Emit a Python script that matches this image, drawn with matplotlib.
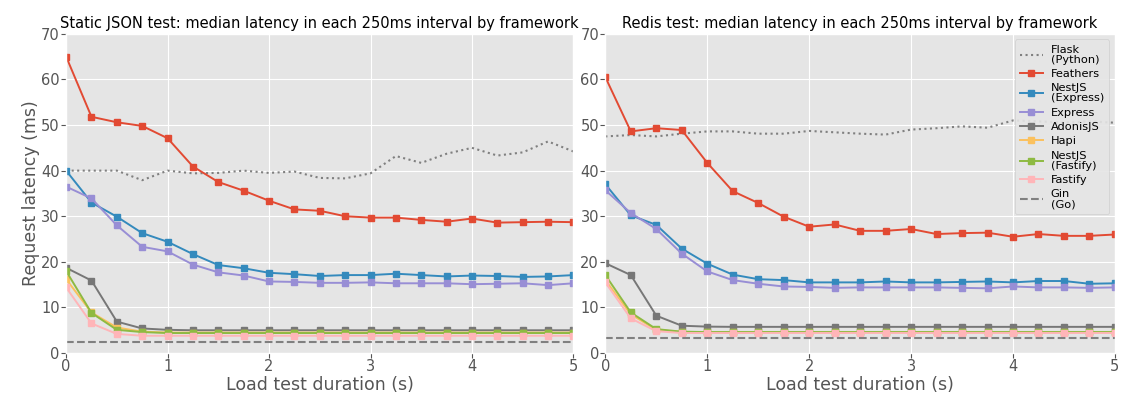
import numpy as np
import matplotlib
matplotlib.use("Agg")
import matplotlib.pyplot as plt

plt.style.use("ggplot")

# time axis: 250ms intervals over 5 seconds
t = [0, 0.25, 0.5, 0.75, 1.0, 1.25, 1.5, 1.75, 2.0, 2.25, 2.5,
     2.75, 3.0, 3.25, 3.5, 3.75, 4.0, 4.25, 4.5, 4.75, 5.0]

labels = ["Flask\n(Python)", "Feathers", "NestJS\n(Express)", "Express",
          "AdonisJS", "Hapi", "NestJS\n(Fastify)", "Fastify", "Gin\n(Go)"]

# --- Static JSON test ---
json_flask = [40.0, 40.0, 40.0, 37.9, 40.0, 39.4, 39.5, 40.0, 39.5, 39.8, 38.4,
              38.3, 39.4, 43.2, 41.7, 43.7, 45.0, 43.3, 44.0, 46.4, 44.2]
json_feathers = [65.0, 51.8, 50.6, 49.8, 47.1, 40.9, 37.5, 35.6, 33.4, 31.5, 31.2,
                 30.0, 29.7, 29.7, 29.2, 28.8, 29.5, 28.6, 28.7, 28.8, 28.7]
json_nest_express = [40.0, 33.0, 29.9, 26.3, 24.4, 21.7, 19.3, 18.6, 17.6, 17.3, 16.9,
                     17.1, 17.1, 17.4, 17.1, 16.8, 17.0, 16.9, 16.7, 16.8, 17.1]
json_express = [36.5, 33.9, 28.0, 23.3, 22.3, 19.4, 17.7, 17.0, 15.7, 15.6, 15.4,
                15.4, 15.5, 15.3, 15.3, 15.3, 15.1, 15.2, 15.3, 14.9, 15.3]
json_adonis = [18.7, 15.9, 6.9, 5.4, 5.1, 5.0, 5.0, 5.0, 5.0, 5.0, 5.0,
               5.0, 5.0, 5.0, 5.0, 5.0, 5.0, 5.0, 5.0, 5.0, 5.0]
json_hapi = [16.2, 8.9, 5.6, 4.7, 4.5, 4.5, 4.5, 4.5, 4.5, 4.5, 4.5,
             4.5, 4.5, 4.5, 4.5, 4.5, 4.5, 4.5, 4.5, 4.5, 4.5]
json_nest_fastify = [18.0, 8.8, 5.1, 4.6, 4.4, 4.4, 4.4, 4.4, 4.4, 4.4, 4.4,
                     4.4, 4.4, 4.4, 4.4, 4.4, 4.4, 4.4, 4.4, 4.4, 4.4]
json_fastify = [14.4, 6.5, 4.2, 3.8, 3.8, 3.8, 3.8, 3.8, 3.8, 3.8, 3.8,
                3.8, 3.8, 3.8, 3.8, 3.8, 3.8, 3.8, 3.8, 3.8, 3.8]
json_gin = [2.5] * 21

# --- Redis test ---
redis_flask = [47.5, 47.8, 47.5, 48.1, 48.6, 48.6, 48.1, 48.1, 48.7, 48.4, 48.1,
               47.9, 49.0, 49.3, 49.7, 49.4, 51.0, 50.8, 50.5, 50.8, 50.5]
redis_feathers = [60.5, 48.6, 49.3, 48.9, 41.7, 35.5, 32.9, 29.9, 27.7, 28.2, 26.8,
                  26.8, 27.2, 26.1, 26.3, 26.4, 25.5, 26.1, 25.7, 25.7, 26.0]
redis_nest_express = [37.0, 30.2, 28.1, 22.9, 19.6, 17.2, 16.2, 16.0, 15.5, 15.5, 15.5,
                      15.7, 15.5, 15.5, 15.6, 15.7, 15.5, 15.8, 15.8, 15.2, 15.3]
redis_express = [35.7, 30.7, 27.2, 21.8, 17.9, 16.0, 15.2, 14.6, 14.5, 14.3, 14.4,
                 14.4, 14.4, 14.4, 14.3, 14.2, 14.6, 14.4, 14.4, 14.3, 14.4]
redis_adonis = [19.7, 17.1, 8.2, 6.0, 5.8, 5.75, 5.75, 5.75, 5.75, 5.75, 5.75,
                5.75, 5.75, 5.75, 5.75, 5.75, 5.75, 5.75, 5.75, 5.75, 5.75]
redis_hapi = [16.0, 8.5, 5.1, 4.6, 4.6, 4.6, 4.6, 4.6, 4.6, 4.6, 4.6,
              4.6, 4.6, 4.6, 4.6, 4.6, 4.6, 4.6, 4.6, 4.6, 4.6]
redis_nest_fastify = [17.1, 8.9, 5.25, 4.7, 4.6, 4.6, 4.6, 4.6, 4.6, 4.6, 4.6,
                      4.6, 4.6, 4.6, 4.6, 4.6, 4.6, 4.6, 4.6, 4.6, 4.6]
redis_fastify = [15.5, 7.6, 4.8, 4.4, 4.4, 4.4, 4.4, 4.4, 4.4, 4.4, 4.4,
                 4.4, 4.4, 4.4, 4.4, 4.4, 4.4, 4.4, 4.4, 4.4, 4.4]
redis_gin = [3.2] * 21

json_series = [json_flask, json_feathers, json_nest_express, json_express, json_adonis,
               json_hapi, json_nest_fastify, json_fastify, json_gin]
redis_series = [redis_flask, redis_feathers, redis_nest_express, redis_express, redis_adonis,
                redis_hapi, redis_nest_fastify, redis_fastify, redis_gin]

colors = ["gray", "#E24A33", "#348ABD", "#988ED5", "#777777",
          "#FBC15E", "#8EBA42", "#FFB5B8", "gray"]


def draw_panel(ax, series, title):
    for i, (vals, lab) in enumerate(zip(series, labels)):
        if i == 0:
            ax.plot(t, vals, linestyle=":", color=colors[i], linewidth=1.5, label=lab)
        elif i == len(series) - 1:
            ax.plot(t, vals, linestyle="--", color=colors[i], linewidth=1.5, label=lab)
        else:
            ax.plot(t, vals, marker="s", markersize=5, linewidth=1.4,
                    color=colors[i], label=lab)
    ax.set_xlim(0, 5)
    ax.set_ylim(0, 70)
    ax.set_title(title, fontsize=10.5, color="black", pad=4)
    ax.set_xlabel("Load test duration (s)", fontsize=12.5, labelpad=1)
    ax.tick_params(labelsize=10.5, pad=1)


fig = plt.figure(figsize=(11.4, 4.12), dpi=100)
ax1 = fig.add_axes([0.058, 0.143, 0.445, 0.775])
ax2 = fig.add_axes([0.531, 0.143, 0.447, 0.775])

draw_panel(ax1, json_series, "Static JSON test: median latency in each 250ms interval by framework")
draw_panel(ax2, redis_series, "Redis test: median latency in each 250ms interval by framework")
ax1.set_ylabel("Request latency (ms)", fontsize=12.5, labelpad=1)

leg = ax2.legend(loc="upper right", fontsize=8.2, handlelength=2.0, labelspacing=0.38,
                 borderpad=0.45, handletextpad=0.7, facecolor="#E5E5E5", framealpha=0.9)
for txt in leg.get_texts():
    txt.set_linespacing(1.0)

fig.savefig("out.png", dpi=100)
